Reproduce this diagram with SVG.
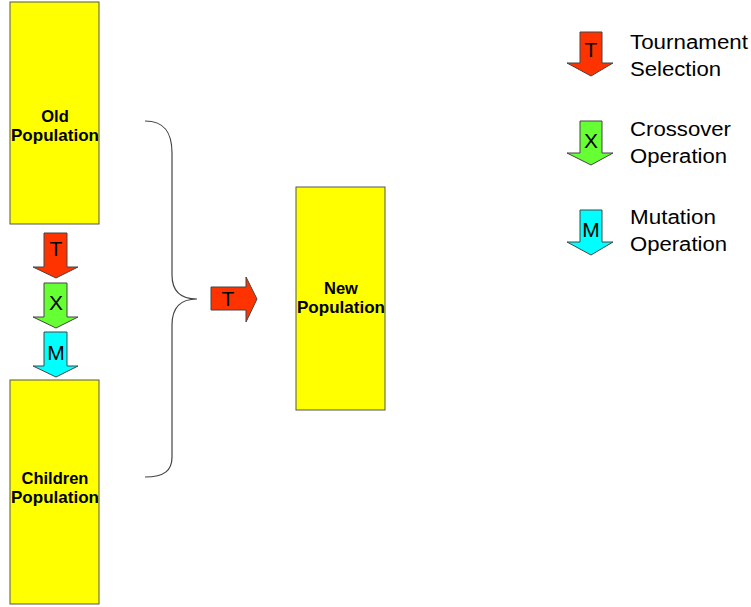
<svg xmlns="http://www.w3.org/2000/svg" width="751" height="607" viewBox="0 0 751 607">
<style>
.pop{fill:#FFFF00;stroke:#555;stroke-width:1}
.lbl{font-family:"Liberation Sans",Arial,sans-serif;font-weight:bold;font-size:16.5px;text-anchor:middle;fill:#000}
.arr{stroke:#444;stroke-width:1}
.t{fill:#FF3300}.x{fill:#66FF33}.m{fill:#00FFFF}
.let{font-family:"Liberation Sans",Arial,sans-serif;font-size:21px;text-anchor:middle;fill:#000}
.leg{font-family:"Liberation Sans",Arial,sans-serif;font-size:19.5px;fill:#000}
.brace{fill:none;stroke:#444;stroke-width:1.2}
</style>
<rect width="751" height="607" fill="#fff"/>
<g id="old">
<rect class="pop" x="10" y="2" width="89" height="222"/>
<text class="lbl" x="55" y="122">Old</text>
<text class="lbl" x="55" y="141" textLength="88" lengthAdjust="spacingAndGlyphs">Population</text>
</g>
<g id="children">
<rect class="pop" x="10" y="380" width="89" height="224"/>
<text class="lbl" x="55" y="484">Children</text>
<text class="lbl" x="55" y="503" textLength="88" lengthAdjust="spacingAndGlyphs">Population</text>
</g>
<g id="new">
<rect class="pop" x="296" y="187" width="89" height="223"/>
<text class="lbl" x="341" y="294">New</text>
<text class="lbl" x="341" y="313" textLength="88" lengthAdjust="spacingAndGlyphs">Population</text>
</g>
<g id="connectors">
<path class="brace" d="M145,121 C165,121 172,133 172,153 L172,275 C172,290 180,299 197,299 C180,299 172,308 172,325 L172,457 C172,470 165,477 145,477"/>
</g>
<g id="opT">
<polygon class="arr t" points="44,233 67,233 67,267 78,267 56,278 33,267 44,267"/>
<text class="let" x="56" y="256">T</text>
</g>
<g id="opX">
<polygon class="arr x" points="44,283 67,283 67,317 78,317 56,328 33,317 44,317"/>
<text class="let" x="56" y="310">X</text>
</g>
<g id="opM">
<polygon class="arr m" points="44,332 67,332 67,366 78,366 56,377 33,366 44,366"/>
<text class="let" x="56" y="360">M</text>
</g>
<g id="selT">
<polygon class="arr t" points="211,287 246,287 246,277 257,299 246,322 246,310 211,310"/>
<text class="let" x="228" y="306">T</text>
</g>
<g id="legendT">
<polygon class="arr t" points="580,32 602,32 602,63 613,63 591,76 567,63 580,63"/>
<text class="let" x="591" y="57">T</text>
<text class="leg" x="630" y="49" textLength="118" lengthAdjust="spacingAndGlyphs">Tournament</text>
<text class="leg" x="630" y="76" textLength="91" lengthAdjust="spacingAndGlyphs">Selection</text>
</g>
<g id="legendX">
<polygon class="arr x" points="580,121 602,121 602,153 613,153 591,165 567,153 580,153"/>
<text class="let" x="591" y="148">X</text>
<text class="leg" x="630" y="136" textLength="101" lengthAdjust="spacingAndGlyphs">Crossover</text>
<text class="leg" x="630" y="163" textLength="97" lengthAdjust="spacingAndGlyphs">Operation</text>
</g>
<g id="legendM">
<polygon class="arr m" points="580,210 602,210 602,242 613,242 591,255 567,242 580,242"/>
<text class="let" x="591" y="237">M</text>
<text class="leg" x="630" y="224" textLength="86" lengthAdjust="spacingAndGlyphs">Mutation</text>
<text class="leg" x="630" y="251" textLength="97" lengthAdjust="spacingAndGlyphs">Operation</text>
</g>
</svg>
